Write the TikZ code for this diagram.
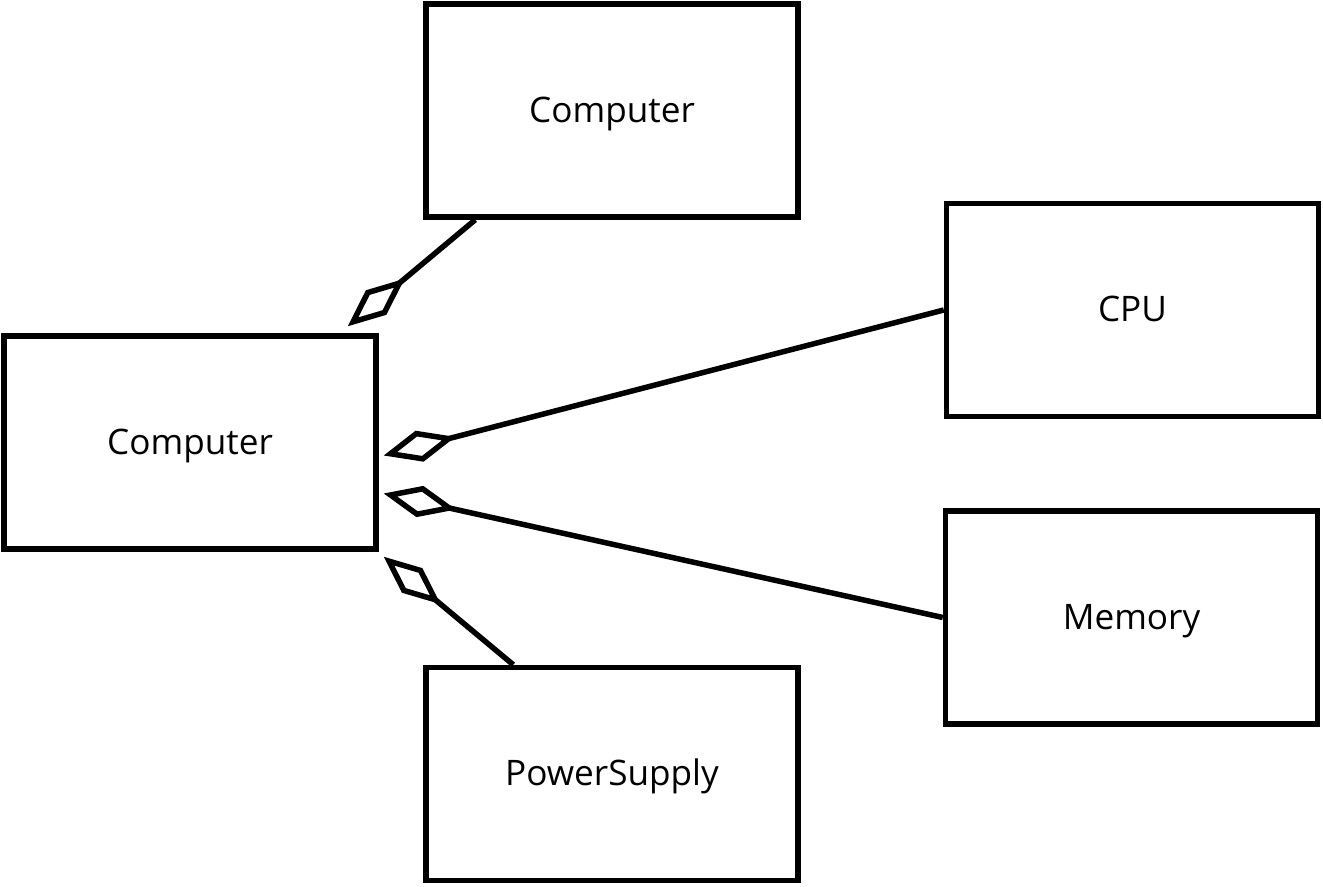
\documentclass[tikz,border=0pt]{standalone}
\usepackage{fontspec}
\setmainfont{Open Sans}
\usetikzlibrary{arrows.meta, positioning, calc}

\begin{document}
\begin{tikzpicture}[font=\fontsize{10}{12}\selectfont, line width=0.055cm,
 classbox/.style={draw, rectangle, minimum width=3.72cm, minimum height=2.13cm,
   text height=0.9em, text depth=0.24em},
 aggr/.style={-{Diamond[open, length=7.4mm, width=3.2mm]}}]
\useasboundingbox (0,0) rectangle (13.23,8.86);

% classes
\node[classbox] (upper) at (6.12,7.755) {Computer};
\node[classbox] (comp) at (1.90,4.435) {Computer};
\node[classbox] (cpu) at (11.325,5.76) {CPU};
\node[classbox] (mem) at (11.315,2.685) {Memory};
\node[classbox] (psu) at (6.12,1.12) {PowerSupply};

% diamond tips next to comp
\coordinate (tupper) at ($(comp.north east)+(-0.31,0.07)$);
\coordinate (tcpu) at ($(comp.east)+(0.05,-0.13)$);
\coordinate (tmem) at ($(comp.east)+(0.05,-0.51)$);
\coordinate (tpsu) at ($(comp.south east)+(0.05,-0.05)$);

% aggregations
\draw[aggr] ($(upper.south west)+(0.52,0)$) -- (tupper);
\draw[aggr] (cpu.west) -- (tcpu);
\draw[aggr] (mem.west) -- (tmem);
\draw[aggr] ($(psu.north west)+(0.90,0)$) -- (tpsu);
\end{tikzpicture}
\end{document}
